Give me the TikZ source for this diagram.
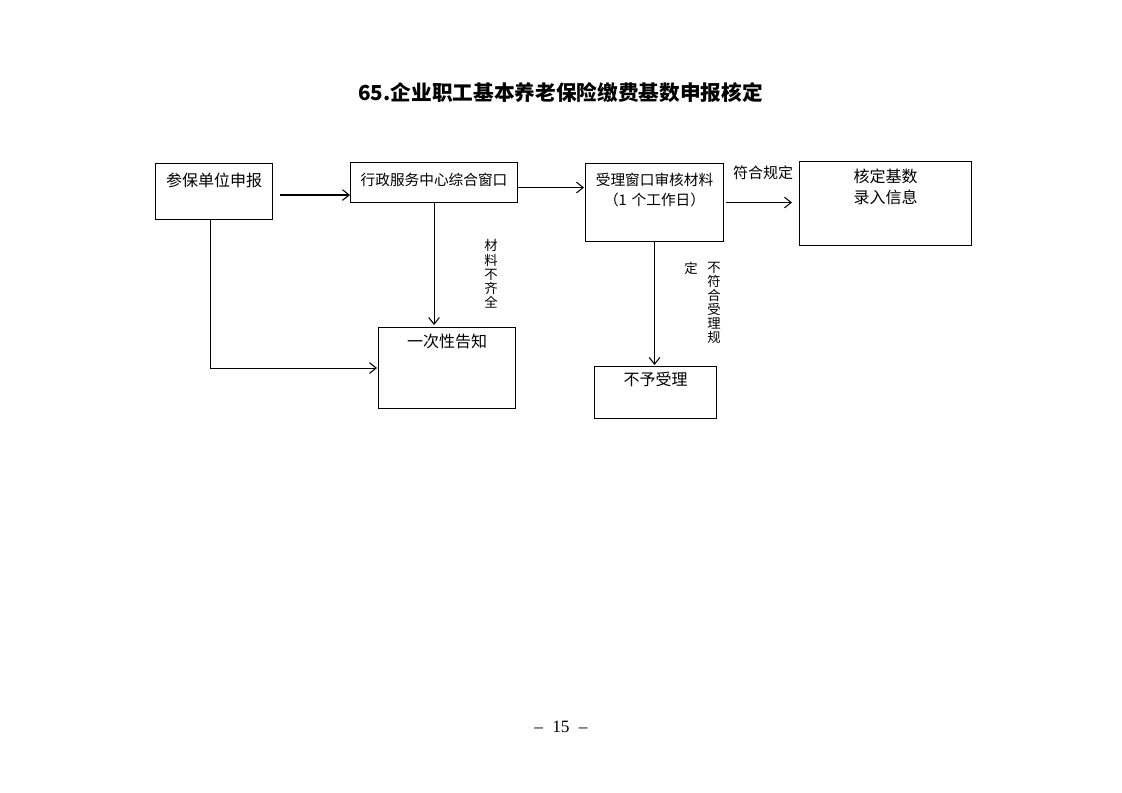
\documentclass[tikz,border=0pt]{standalone}
\usepackage{fontspec}
\setmainfont{Liberation Serif}
\newfontfamily\cjk{Noto Sans CJK SC}
\usetikzlibrary{arrows.meta}
\tikzset{
  box/.style={draw, line width=0.8pt, anchor=north west, inner xsep=0pt, inner ysep=0pt, align=center},
  arr/.style={draw, line width=0.8pt, -{Straight Barb[length=5pt,width=8pt]}},
  vlabel/.style={inner sep=0pt, align=center, font=\cjk\fontsize{10}{10.6}\selectfont}
}
\begin{document}
\begin{tikzpicture}[x=0.75pt, y=-0.75pt]
    \useasboundingbox (0,0) rectangle (1122,793);
    \node (title) at (560.5,93) {\cjk\bfseries\fontsize{15.5}{18}\selectfont 65.企业职工基本养老保险缴费基数申报核定};
    % boxes
    \node[box, text width=87.75pt, text height=17.25pt, text depth=24.75pt, font=\cjk\fontsize{12}{15}\selectfont] (apply) at (155,163) {参保单位申报};
    \node[box, text width=125.25pt, text height=17.25pt, text depth=12.75pt, font=\cjk\fontsize{11}{15}\selectfont] (window) at (350,162) {行政服务中心综合窗口};
    \node[box, text width=103.5pt, text height=16.5pt, text depth=42pt, font=\cjk\fontsize{11}{15}\selectfont] (check) at (585,163) {受理窗口审核材料\\（1 个工作日）};
    \node[box, text width=129pt, text height=15.75pt, text depth=47.25pt, font=\cjk\fontsize{12}{15.75}\selectfont] (record) at (799,161) {核定基数\\录入信息};
    \node[box, text width=102.75pt, text height=15pt, text depth=45.75pt, font=\cjk\fontsize{12}{15}\selectfont] (notice) at (378,327) {一次性告知};
    \node[box, text width=91.5pt, text height=14.25pt, text depth=24.75pt, font=\cjk\fontsize{12}{15}\selectfont] (reject) at (594,366) {不予受理};
    % labels
    \node[font=\cjk\fontsize{11.25}{13}\selectfont, inner sep=0pt] (lblok) at (763,173) {符合规定};
    \node[vlabel] (lblmiss) at (491,274) {材\\料\\不\\齐\\全};
    \node[vlabel] (lblno) at (714,303) {不\\符\\合\\受\\理\\规};
    \node[vlabel] (lblno2) at (691,268) {定};
    % arrows
    \coordinate (a1) at (280,195);
    \draw[arr] (a1) -- (a1 -| window.west);
    \draw[arr] ([yshift=-3.75pt]window.east) -- ([yshift=-3.75pt,xshift=-0.75pt]window.east -| check.west);
    \draw[arr] ([xshift=1.5pt]check.east) -- ([xshift=-5.25pt]check.east -| record.west);
    \draw[arr] (window.south) -- ([yshift=1.5pt]window.south |- notice.north);
    \draw[arr] ([xshift=-2.6pt]apply.south) |- ([xshift=-0.75pt]notice.west);
    \draw[arr] (check.south) -- ([yshift=0.75pt]check.south |- reject.north);
    % page number
    \node (page) at (561,727) {\fontsize{13}{15}\selectfont –\hspace{7pt}15\hspace{7pt}–};
\end{tikzpicture}
\end{document}
